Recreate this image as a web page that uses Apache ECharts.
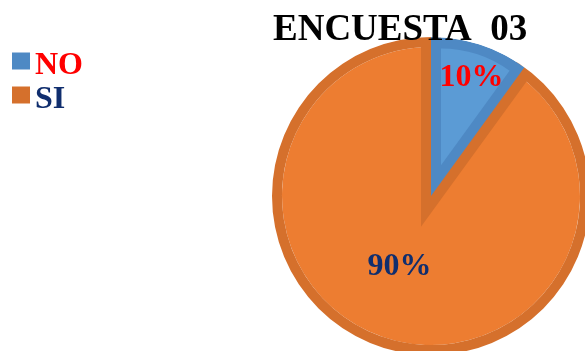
<!DOCTYPE html>
<html>
<head>
<meta charset="utf-8">
<script src="https://cdn.jsdelivr.net/npm/echarts@6/dist/echarts.min.js"></script>
<style>
  html, body { margin: 0; padding: 0; background: #ffffff; }
  #chart { width: 585px; height: 351px; }
</style>
</head>
<body>
<div id="chart"></div>
<script>
// Survey answers
const categories = ['NO', 'SI'];
const percentages = [10, 90];
const fillColors = ['#5B9BD5', '#ED7D31'];
const edgeColors = ['#4E89C4', '#D5702C'];
const labelColors = ['#FF0000', '#102E6E'];
const titleText = 'ENCUESTA  03';

const serif = '"Liberation Serif", "Times New Roman", serif';
const NONE = 'rgba(0,0,0,0)';

// Pie geometry and the bevel drawn inside every slice
const cx = 431, cy = 196, R = 159, bevel = 10;

// Label nudges so each percentage sits where it reads best inside its slice
const labelShift = [[15, -40], [-6, -8]];

// Slice data where only the slice at index `keep` is painted
function only(keep, style) {
  return categories.map((name, i) => ({
    name: name,
    value: percentages[i],
    itemStyle: i === keep ? style(i) : { color: NONE, borderWidth: 0 }
  }));
}

// Inset blue face: the sector moved along its bisector so both straight edges sit `bevel` px inside
const total = percentages.reduce((a, b) => a + b, 0);
const noAngle = percentages[0] / total * Math.PI * 2;
const shift = bevel / Math.sin(noAngle / 2);
const bis = noAngle / 2; // measured clockwise from 12 o'clock
const faceCenter = [cx + shift * Math.sin(bis), cy - shift * Math.cos(bis)];

// Legend text styles, one rich key per answer so each keeps its own colour
const legendRich = {};
categories.forEach((name, i) => {
  legendRich['c' + i] = {
    fontFamily: serif, fontWeight: 'bold', fontSize: 32,
    color: labelColors[i], padding: [10, 0, 0, 0]
  };
});

const base = {
  type: 'pie',
  startAngle: 90,
  clockwise: true,
  silent: true,
  label: { show: false },
  labelLine: { show: false },
  emphasis: { disabled: true }
};

const chart = echarts.init(document.getElementById('chart'), null, { renderer: 'canvas' });

chart.setOption({
  backgroundColor: '#ffffff',
  animation: false,
  title: {
    text: titleText,
    left: 273,
    top: 12,
    padding: 0,
    textStyle: { fontFamily: serif, fontWeight: 'bold', fontSize: 37, color: '#000000' }
  },
  legend: {
    orient: 'vertical',
    left: 12,
    top: 50,
    padding: 0,
    itemWidth: 18,
    itemHeight: 17,
    itemGap: 2,
    icon: 'rect',
    selectedMode: false,
    formatter: name => '{c' + categories.indexOf(name) + '|' + name + '}',
    textStyle: { fontFamily: serif, fontWeight: 'bold', fontSize: 32, rich: legendRich },
    data: categories.map((name, i) => ({
      name: name,
      itemStyle: { color: edgeColors[i] }
    }))
  },
  series: [
    // SI face
    Object.assign({}, base, {
      center: [cx, cy], radius: [0, R - bevel],
      data: only(1, i => ({ color: fillColors[i], borderWidth: 0 }))
    }),
    // SI bevel along the rim and both straight edges
    Object.assign({}, base, {
      center: [cx, cy], radius: [0, R],
      data: only(1, i => ({
        color: NONE, borderColor: edgeColors[i], borderWidth: bevel * 2,
        borderJoin: 'miter', borderMiterLimit: 10
      }))
    }),
    // NO slice in its darker bevel tone
    Object.assign({}, base, {
      center: [cx, cy], radius: [0, R],
      data: only(0, i => ({ color: edgeColors[i], borderWidth: 0 }))
    }),
    // NO face, inset from its edges
    Object.assign({}, base, {
      center: faceCenter, radius: [0, R - bevel - shift],
      data: only(0, i => ({ color: fillColors[i], borderWidth: 0 }))
    }),
    // clean ring outside the pie edge
    Object.assign({}, base, {
      center: [cx, cy], radius: [R, R + 3 * bevel],
      data: [{ name: '', value: 1, itemStyle: { color: '#ffffff', borderWidth: 0 } }]
    }),
    // percentage labels
    Object.assign({}, base, {
      center: [cx, cy], radius: [0, R],
      z: 3,
      data: categories.map((name, i) => ({
        name: name,
        value: percentages[i],
        itemStyle: { color: NONE, borderWidth: 0 },
        label: { color: labelColors[i] }
      })),
      label: {
        show: true,
        position: 'inside',
        formatter: p => p.value + '%',
        fontFamily: serif,
        fontWeight: 'bold',
        fontSize: 32
      },
      labelLayout: p => ({ dx: labelShift[p.dataIndex][0], dy: labelShift[p.dataIndex][1] })
    })
  ]
});
</script>
</body>
</html>
